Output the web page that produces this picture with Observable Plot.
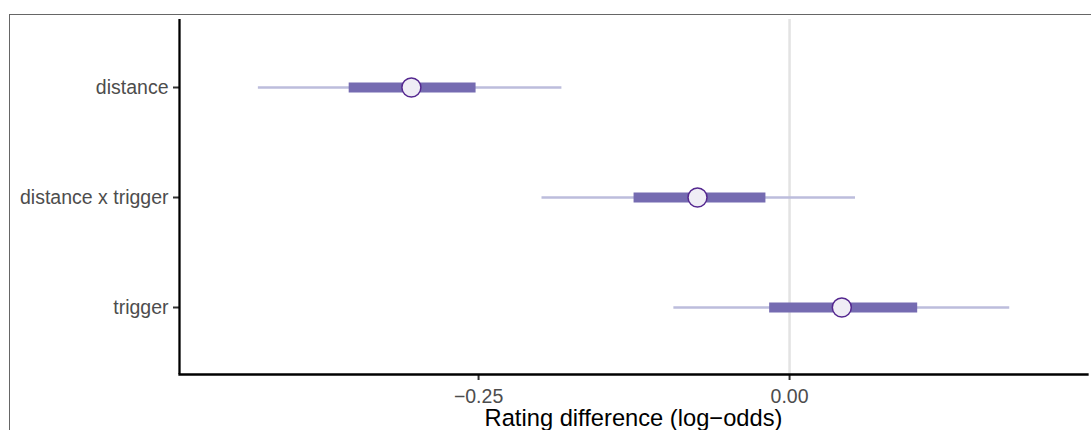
<!DOCTYPE html>
<html><head><meta charset="utf-8">
<script src="https://cdn.jsdelivr.net/npm/d3@7"></script>
<script src="https://cdn.jsdelivr.net/npm/@observablehq/plot@0.6"></script>
<style>
html,body{margin:0;padding:0;background:#fff;overflow:hidden;width:1091px;height:430px;}
#frame{position:absolute;left:9px;top:14px;width:1200px;height:600px;border-top:1.3px solid #666;border-left:1.3px solid #666;}
#chart{position:absolute;left:0;top:0;}
</style></head><body>
<div id="frame"></div>
<div id="chart"></div>
<script>
const terms = ["distance", "distance x trigger", "trigger"];
const median = [-0.304, -0.074, 0.042];
const lo66 = [-0.354, -0.125, -0.016];
const hi66 = [-0.252, -0.019, 0.103];
const lo95 = [-0.427, -0.199, -0.093];
const hi95 = [-0.183, 0.053, 0.177];
const xTicks = [-0.25, 0];
const xDomain = [-0.4904, 0.2395];
const refLine = [0];
const xLabel = "Rating difference (log\u2212odds)";

const rows = terms.map((t, i) => ({term: t, m: median[i], lo66: lo66[i], hi66: hi66[i], lo95: lo95[i], hi95: hi95[i]}));

const chart = Plot.plot({
  width: 1091, height: 430,
  marginLeft: 179, marginRight: 4, marginTop: 19, marginBottom: 56,
  style: {fontFamily: "'Liberation Sans', Arial, sans-serif", background: "transparent", overflow: "visible"},
  x: {domain: xDomain, ticks: xTicks, tickFormat: d3.format(".2f")},
  y: {type: "point", domain: terms, padding: 0.6},
  marks: [
    Plot.ruleX(refLine, {stroke: "#e3e3e3", strokeWidth: 2.5}),
    Plot.ruleY(rows, {y: "term", x1: "lo95", x2: "hi95", stroke: "#bcbddc", strokeWidth: 2.7}),
    Plot.ruleY(rows, {y: "term", x1: "lo66", x2: "hi66", stroke: "#756bb1", strokeWidth: 10}),
    Plot.dot(rows, {x: "m", y: "term", r: 9.5, fill: "#efedf5", stroke: "#54278f", strokeWidth: 1.5}),
    Plot.axisY({tickSize: 6, tickPadding: 5, fontSize: 19.5, fill: "#4d4d4d", stroke: "#333", strokeWidth: 2, label: null}),
    Plot.axisX(xTicks, {tickSize: 6, tickPadding: 9, fontSize: 19.5, fill: "#4d4d4d", stroke: "#333", strokeWidth: 2, label: null, tickFormat: d3.format(".2f")}),
    Plot.ruleX([xDomain[0]], {stroke: "black", strokeWidth: 2.3}),
    Plot.frame({anchor: "bottom", stroke: "black", strokeWidth: 2.3}),
    Plot.text([xLabel], {frameAnchor: "bottom", dy: 51, fontSize: 23.7, fill: "black"})
  ]
});
document.getElementById("chart").appendChild(chart);
</script>
</body></html>
